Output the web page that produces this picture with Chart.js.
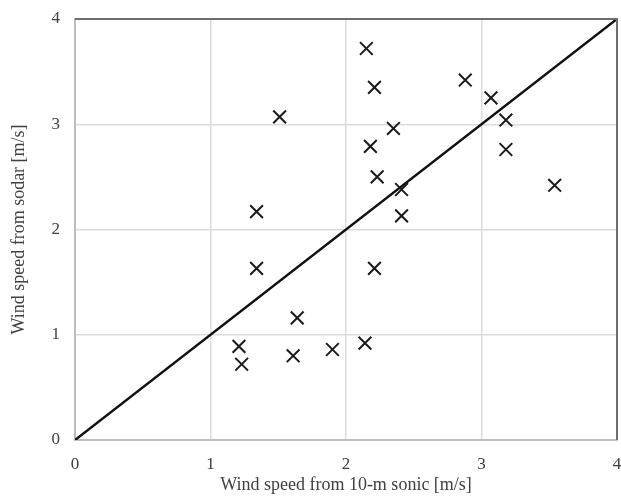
<!DOCTYPE html>
<html>
<head>
<script src="https://cdn.jsdelivr.net/npm/chart.js@4.4.0/dist/chart.umd.min.js"></script>
<style>
  body { margin: 0; background: #fff; }
</style>
</head>
<body>
<canvas id="myChart" width="621" height="497"></canvas>
<script>
// sonic (x) vs sodar (y) wind speeds, m/s
var sonicSpeed = [2.15, 2.21, 2.88, 3.07, 3.18, 1.51, 2.35, 2.18, 3.18, 2.23, 2.41, 3.54, 2.41,
                  1.34, 1.34, 2.21, 1.64, 1.21, 1.23, 1.61, 1.90, 2.14];
var sodarSpeed = [3.72, 3.35, 3.42, 3.25, 3.04, 3.07, 2.96, 2.79, 2.76, 2.50, 2.38, 2.42, 2.13,
                  2.17, 1.63, 1.63, 1.16, 0.89, 0.72, 0.80, 0.86, 0.92];
var oneToOneX = [0, 4];
var oneToOneY = [0, 4];
var tickValues = [0, 1, 2, 3, 4];

var points = sonicSpeed.map(function (v, i) { return { x: v, y: sodarSpeed[i] }; });
var diag = oneToOneX.map(function (v, i) { return { x: v, y: oneToOneY[i] }; });

// darker frame on the top and right edges
var frame = {
    id: 'frame',
    afterDatasetsDraw: function (chart) {
        var a = chart.chartArea, c = chart.ctx;
        c.save();
        c.strokeStyle = '#6e6e6e';
        c.lineWidth = 2;
        c.beginPath();
        c.moveTo(a.left, a.top);
        c.lineTo(a.right, a.top);
        c.lineTo(a.right, a.bottom);
        c.stroke();
        c.restore();
    }
};

var txt = '#404040';
var tickFont = { family: 'Liberation Serif', size: 17 };
var titleFont = { family: 'Liberation Serif', size: 18 };

new Chart('myChart', {
    type: 'scatter',
    data: {
        datasets: [{
            data: points,
            pointStyle: 'crossRot',
            pointRadius: 9,
            pointBorderWidth: 2,
            borderColor: '#1a1a1a',
            backgroundColor: '#1a1a1a'
        }, {
            type: 'line',
            data: diag,
            borderColor: '#111',
            borderWidth: 2.5,
            pointRadius: 0,
            fill: false
        }]
    },
    options: {
        responsive: false,
        animation: false,
        layout: { autoPadding: false, padding: { top: 19, right: 4, left: 0, bottom: 0 } },
        plugins: { legend: { display: false }, tooltip: { enabled: false } },
        scales: {
            x: {
                type: 'linear', min: 0, max: 4,
                afterBuildTicks: function (s) { s.ticks = tickValues.map(function (v) { return { value: v }; }); },
                afterFit: function (s) { s.height = 57; s.paddingRight = 0; s.paddingLeft = 0; },
                grid: { color: '#dcdcdc', lineWidth: 1.5, drawTicks: false },
                border: { color: '#bdbdbd', width: 2 },
                ticks: { color: txt, font: tickFont, padding: 14 },
                title: { display: true, text: 'Wind speed from 10-m sonic [m/s]', color: txt, font: titleFont, padding: { top: 4, bottom: 1 } }
            },
            y: {
                type: 'linear', min: 0, max: 4,
                afterBuildTicks: function (s) { s.ticks = tickValues.map(function (v) { return { value: v }; }); },
                afterFit: function (s) { s.width = 75; s.paddingTop = 0; s.paddingBottom = 0; },
                grid: { color: '#dcdcdc', lineWidth: 1.5, drawTicks: false },
                border: { color: '#bdbdbd', width: 2 },
                ticks: { color: txt, font: tickFont, padding: 15 },
                title: { display: true, text: 'Wind speed from sodar [m/s]', color: txt, font: titleFont, padding: { top: 8, bottom: 0 } }
            }
        }
    },
    plugins: [frame]
});
</script>
</body>
</html>
